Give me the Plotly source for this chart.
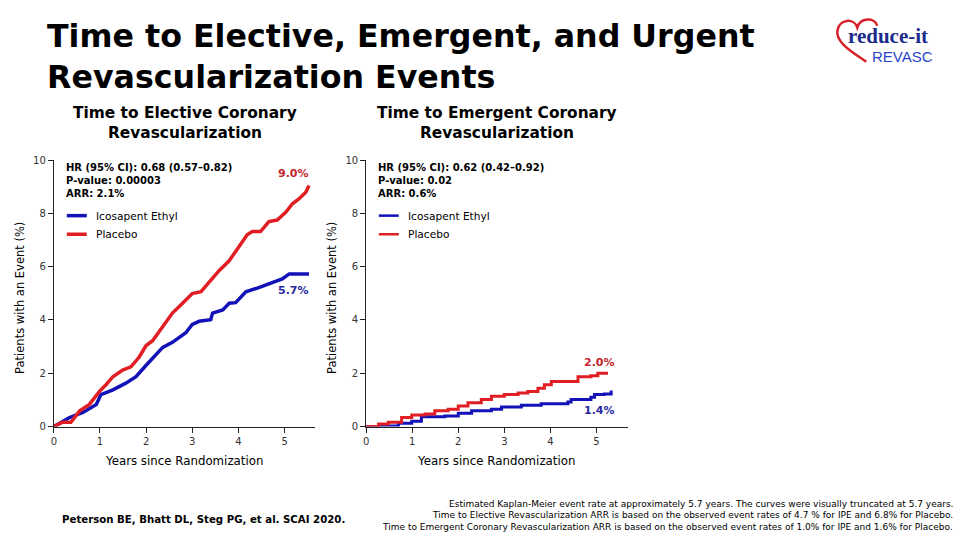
import plotly.graph_objects as go

# ---------------- data ----------------
years_label = "Years since Randomization"
y_label = "Patients with an Event (%)"

elective_ipe_x = [0, 0.34, 0.63, 0.92, 1.02, 1.28, 1.56, 1.78, 2.0, 2.21, 2.36, 2.57, 2.86, 3.0, 3.15, 3.4, 3.44,
                  3.66, 3.8, 3.94, 4.02, 4.16, 4.38, 4.66, 4.95, 5.1, 5.53]
elective_ipe_y = [0, 0.34, 0.53, 0.83, 1.2, 1.38, 1.63, 1.87, 2.3, 2.67, 2.97, 3.16, 3.52, 3.83, 3.95, 4.01, 4.26,
                  4.38, 4.63, 4.65, 4.81, 5.06, 5.18, 5.36, 5.54, 5.73, 5.73]
elective_pbo_x = [0, 0.19, 0.37, 0.56, 0.77, 0.99, 1.13, 1.28, 1.49, 1.67, 1.85, 2.0, 2.14, 2.29, 2.43, 2.57, 2.79,
                  3.0, 3.19, 3.37, 3.58, 3.8, 3.94, 4.09, 4.19, 4.3, 4.48, 4.66, 4.84, 5.03, 5.17, 5.31, 5.46, 5.53]
elective_pbo_y = [0, 0.16, 0.16, 0.59, 0.83, 1.32, 1.57, 1.87, 2.12, 2.24, 2.61, 3.04, 3.22, 3.59, 3.89, 4.26, 4.63,
                  4.99, 5.06, 5.42, 5.85, 6.22, 6.58, 6.95, 7.2, 7.32, 7.32, 7.69, 7.75, 8.05, 8.36, 8.54, 8.79, 9.05]

emergent_pbo_x = [0, 0.27, 0.48, 0.77, 0.99, 1.28, 1.49, 1.78, 2.0, 2.21, 2.5, 2.72, 3.0, 3.3, 3.51, 3.73, 3.87,
                  4.02, 4.38, 4.6, 4.88, 5.03, 5.25]
emergent_pbo_y = [0, 0.1, 0.16, 0.34, 0.43, 0.47, 0.59, 0.65, 0.77, 0.89, 1.02, 1.14, 1.2, 1.26, 1.32, 1.44, 1.57,
                  1.69, 1.69, 1.87, 1.91, 2.0, 2.0]
emergent_ipe_x = [0, 0.48, 0.7, 0.99, 1.2, 1.71, 2.0, 2.29, 2.72, 2.94, 3.37, 3.8, 4.38, 4.45, 4.88, 4.96, 5.17, 5.32]
emergent_ipe_y = [0, 0.02, 0.12, 0.2, 0.37, 0.4, 0.5, 0.59, 0.65, 0.73, 0.8, 0.86, 0.92, 1.02, 1.1, 1.2, 1.22, 1.35]

x_ticks = [0, 1, 2, 3, 4, 5]
y_ticks = [0, 2, 4, 6, 8, 10]

panel_titles = [["Time to Elective Coronary", "Revascularization"],
                ["Time to Emergent Coronary", "Revascularization"]]
stats_text = ["HR (95% CI): 0.68 (0.57–0.82)<br>P-value: 0.00003<br>ARR: 2.1%",
              "HR (95% CI): 0.62 (0.42–0.92)<br>P-value: 0.02<br>ARR: 0.6%"]
end_labels = [("9.0%", "5.7%"), ("2.0%", "1.4%")]
series_names = ["Icosapent Ethyl", "Placebo"]

footnote = ["Estimated Kaplan-Meier event rate at approximately 5.7 years. The curves were visually truncated at 5.7 years.",
            "Time to Elective Revascularization ARR is based on the observed event rates of 4.7 % for IPE and 6.8% for Placebo.",
            "Time to Emergent Coronary Revascularization ARR is based on the observed event rates of 1.0% for IPE and 1.6% for Placebo."]
citation = "Peterson BE, Bhatt DL, Steg PG, et al. SCAI 2020."
main_title = ["Time to Elective, Emergent, and Urgent", "Revascularization Events"]

# ---------------- styling ----------------
W, H = 960, 540
BLUE = "#1212b8"
RED = "#e01e24"
BLUE_TXT = "#2a2aa0"
RED_TXT = "#c0262c"
FONT = "DejaVu Sans, Verdana, sans-serif"


def px(x):
    return x / W


def py(y):
    return 1 - y / H


fig = go.Figure()

fig.add_trace(go.Scatter(x=elective_ipe_x, y=elective_ipe_y, mode="lines", line=dict(color=BLUE, width=3.5),
                         xaxis="x", yaxis="y", showlegend=False))
fig.add_trace(go.Scatter(x=elective_pbo_x, y=elective_pbo_y, mode="lines", line=dict(color=RED, width=3.5),
                         xaxis="x", yaxis="y", showlegend=False))
fig.add_trace(go.Scatter(x=emergent_ipe_x, y=emergent_ipe_y, mode="lines", line=dict(color=BLUE, width=3, shape="hv"),
                         xaxis="x2", yaxis="y2", showlegend=False))
fig.add_trace(go.Scatter(x=emergent_pbo_x, y=emergent_pbo_y, mode="lines", line=dict(color=RED, width=3, shape="hv"),
                         xaxis="x2", yaxis="y2", showlegend=False))

ydom = [py(429.3), py(157.3)]
axis_common = dict(showgrid=False, zeroline=False, showline=True, linecolor="#222", linewidth=1,
                   ticks="outside", ticklen=5, tickcolor="#222",
                   tickfont=dict(family=FONT, size=10, color="#333"))

fig.update_layout(
    width=W, height=H, margin=dict(l=0, r=0, t=0, b=0),
    paper_bgcolor="white", plot_bgcolor="white",
    xaxis=dict(domain=[px(51), px(313)], range=[0, 5.66], tickvals=x_ticks, anchor="y", **axis_common),
    yaxis=dict(domain=ydom, range=[0, 10], tickvals=y_ticks, anchor="x", **axis_common),
    xaxis2=dict(domain=[px(364.3), px(626.7)], range=[0, 5.68], tickvals=x_ticks, anchor="y2", **axis_common),
    yaxis2=dict(domain=ydom, range=[0, 10], tickvals=y_ticks, anchor="x2", **axis_common),
)

ann = []
# main title
for yy, t in zip([31, 72], main_title):
    ann.append(dict(x=px(42), y=py(yy), xref="paper", yref="paper", xanchor="left", yanchor="middle", align="left",
                    text="<b>" + t + "</b>", showarrow=False,
                    font=dict(family=FONT, size=31.7, color="black")))
# panel titles
for cx, lines in zip([183, 496], panel_titles):
    for yy, t in zip([109, 130], lines):
        ann.append(dict(x=px(cx), y=py(yy), xref="paper", yref="paper", xanchor="center", yanchor="middle",
                        text="<b>" + t + "</b>", showarrow=False, font=dict(family=FONT, size=15.4, color="black")))
# stats text
for xx, t in zip([61, 374], stats_text):
    ann.append(dict(x=px(xx), y=py(178), xref="paper", yref="paper", xanchor="left", yanchor="middle", align="left",
                    text="<b>" + t + "</b>", showarrow=False, font=dict(family=FONT, size=10, color="black")))
# legends
shapes = []
for lx, lw in [(64, 3.5), (377, 2.5)]:
    for ly, col, name in [(214, BLUE, series_names[0]), (233, RED, series_names[1])]:
        shapes.append(dict(type="line", xref="paper", yref="paper", x0=px(lx), x1=px(lx + 20), y0=py(ly), y1=py(ly),
                           line=dict(color=col, width=lw)))
        ann.append(dict(x=px(lx + 27), y=py(ly), xref="paper", yref="paper", xanchor="left", yanchor="middle",
                        text=name, showarrow=False, font=dict(family=FONT, size=10.6, color="black")))
# end labels
ann.append(dict(x=elective_pbo_x[-1] + 0.05, y=9.5, xref="x", yref="y", xanchor="right", yanchor="middle",
                text="<b>" + end_labels[0][0] + "</b>", showarrow=False, font=dict(family=FONT, size=11, color=RED_TXT)))
ann.append(dict(x=elective_ipe_x[-1] + 0.05, y=5.1, xref="x", yref="y", xanchor="right", yanchor="middle",
                text="<b>" + end_labels[0][1] + "</b>", showarrow=False, font=dict(family=FONT, size=11, color=BLUE_TXT)))
ann.append(dict(x=emergent_ipe_x[-1] + 0.12, y=2.4, xref="x2", yref="y2", xanchor="right", yanchor="middle",
                text="<b>" + end_labels[1][0] + "</b>", showarrow=False, font=dict(family=FONT, size=11, color=RED_TXT)))
ann.append(dict(x=emergent_ipe_x[-1] + 0.12, y=0.6, xref="x2", yref="y2", xanchor="right", yanchor="middle",
                text="<b>" + end_labels[1][1] + "</b>", showarrow=False, font=dict(family=FONT, size=11, color=BLUE_TXT)))
# axis titles
for cx in [182, 495]:
    ann.append(dict(x=px(cx), y=py(464), xref="paper", yref="paper", xanchor="center", yanchor="middle",
                    text=years_label, showarrow=False, font=dict(family=FONT, size=11.8, color="black")))
for cx in [17, 330]:
    ann.append(dict(x=px(cx), y=py(298), xref="paper", yref="paper", xanchor="center", yanchor="middle",
                    text=y_label, textangle=-90, showarrow=False, font=dict(family=FONT, size=11.5, color="black")))
# citation and footnote
ann.append(dict(x=px(201), y=py(524), xref="paper", yref="paper", xanchor="center", yanchor="middle",
                text="<b>" + citation + "</b>", showarrow=False, font=dict(family=FONT, size=10.2, color="black")))
for yy, t in zip([508, 520, 532], footnote):
    ann.append(dict(x=px(955), y=py(yy), xref="paper", yref="paper", xanchor="right", yanchor="middle", align="right",
                    text=t, showarrow=False, font=dict(family=FONT, size=9, color="black")))
# logo
ann.append(dict(x=px(846), y=py(31), xref="paper", yref="paper", xanchor="left", yanchor="middle",
                text="<b>reduce-it</b>", showarrow=False,
                font=dict(family="Liberation Serif, Times New Roman, serif", size=21, color="#1c2a8c")))
ann.append(dict(x=px(870), y=py(52), xref="paper", yref="paper", xanchor="left", yanchor="middle",
                text="REVASC", showarrow=False, font=dict(family="Liberation Sans, Arial, sans-serif", size=15,
                                                          color="#2a46c8")))


def hp(pts):
    return " ".join(f"{px(a):.5f},{py(b):.5f}" for a, b in pts)


heart = ("M " + hp([(866, 57)]) + " C " + hp([(852, 47), (835, 37), (837, 25)]) +
         " C " + hp([(839, 13), (854, 12), (857, 22)]) + " C " + hp([(860, 12), (874, 11), (877, 20)]))
shapes.append(dict(type="path", xref="paper", yref="paper", path=heart, line=dict(color="#d8202a", width=2.5)))

fig.update_layout(annotations=ann, shapes=shapes)
post = "document.body.style.margin='0';document.body.style.padding='0';"
fig.write_html("out.html", config={"displayModeBar": False}, post_script=post)
